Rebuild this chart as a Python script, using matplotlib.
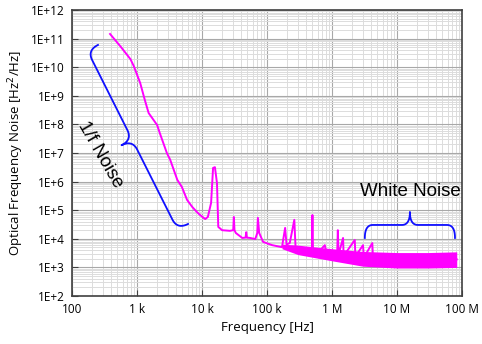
import numpy as np
import matplotlib
matplotlib.use("Agg")
import matplotlib.pyplot as plt
from matplotlib.ticker import FixedLocator, LogLocator, NullFormatter

# Main trace (frequency in Hz, noise in Hz^2/Hz)
freq = [385, 562, 794, 891, 1120, 1320, 1510, 2040, 2240, 2880, 3240, 4170,
        4900, 5890, 7080, 8320, 9330, 11200, 12300, 13800, 14800, 15800,
        17000, 17800, 20400, 26900, 30200, 30900, 31600, 33100, 41700, 46800,
        47900, 49000, 55000, 66100, 70800, 72400, 75900, 87100, 1.2e5, 1.7e5,
        1.9e5, 2.0e5, 2.24e5, 2.63e5, 2.75e5, 3.0e5, 3.8e5, 4.9e5, 5.0e5,
        5.1e5, 6.0e5, 7.76e5, 8.3e5, 1.2e6, 1.23e6, 1.26e6, 1.48e6, 1.51e6,
        2.24e6, 2.29e6, 3.0e6, 3.09e6, 4.17e6, 4.27e6, 1.0e7, 3.2e7, 8.3e7]
noise = [1.45e11, 5.2e10, 1.9e10, 1.1e10, 2.8e9, 7.1e8, 2.5e8, 9.5e7, 5.0e7,
         1.0e7, 5.8e6, 1.15e6, 6.5e5, 2.3e5, 1.3e5, 8.7e4, 6.8e4, 4.9e4,
         5.8e4, 1.8e5, 3.0e6, 3.2e6, 8.9e5, 2.6e4, 2.0e4, 1.9e4, 2.0e4, 5.8e4,
         2.0e4, 1.6e4, 1.07e4, 1.1e4, 1.7e4, 1.1e4, 1.07e4, 9.8e3, 1.6e4,
         5.4e4, 1.6e4, 7.8e3, 6.0e3, 5.1e3, 2.4e4, 6.3e3, 7.1e3, 4.6e4, 5.0e3,
         4.0e3, 4.0e3, 4.0e3, 6.8e4, 3.5e3, 3.2e3, 6.0e3, 2.8e3, 2.8e3, 2.0e4,
         2.8e3, 1.07e4, 2.5e3, 9.1e3, 2.4e3, 6.0e3, 2.2e3, 7.1e3, 2.1e3,
         1.9e3, 1.8e3, 1.9e3]

# Envelope of the noisy band at high frequency
band_freq = [1.7e5, 3e5, 1e6, 3e6, 1e7, 3e7, 8.3e7]
band_upper = [6.5e3, 6e3, 4.5e3, 3.6e3, 3.3e3, 3.3e3, 3.5e3]
band_lower = [4.5e3, 2.8e3, 1.7e3, 1.1e3, 0.95e3, 0.95e3, 1.0e3]

x_ticks = [1e2, 1e3, 1e4, 1e5, 1e6, 1e7, 1e8]
x_labels = ["100", "1 k", "10 k", "100 k", "1 M", "10 M", "100 M"]
y_ticks = [10.0 ** k for k in range(2, 13)]
y_labels = ["1E+%d" % k for k in range(2, 13)]

MAGENTA = "#ff00ff"
BLUE = "#1010ff"

fig = plt.figure(figsize=(4.82, 3.44), dpi=100)
ax = fig.add_axes([72 / 482, 1 - 296 / 344, 390 / 482, 286 / 344])
ax.set_xscale("log")
ax.set_yscale("log")
ax.set_xlim(1e2, 1e8)
ax.set_ylim(1e2, 1e12)

ax.xaxis.set_major_locator(FixedLocator(x_ticks))
ax.yaxis.set_major_locator(FixedLocator(y_ticks))
ax.xaxis.set_minor_locator(LogLocator(base=10, subs=np.arange(2, 10), numticks=20))
ax.yaxis.set_minor_locator(LogLocator(base=10, subs=np.arange(2, 10), numticks=20))
ax.xaxis.set_minor_formatter(NullFormatter())
ax.yaxis.set_minor_formatter(NullFormatter())
ax.set_xticklabels(x_labels, family="Open Sans", fontsize=8.5)
ax.set_yticklabels(y_labels, family="Open Sans", fontsize=8.5)
ax.tick_params(which="major", direction="in", length=4, width=0.8, color="#404040", pad=5)
ax.tick_params(which="minor", length=0)

ax.grid(which="major", color="#a8a8a8", linewidth=0.8)
ax.grid(which="minor", color="#dcdcdc", linewidth=0.7)
ax.set_axisbelow(True)
for s in ax.spines.values():
    s.set_color("#404040")
    s.set_linewidth(1.2)

ax.set_xlabel("Frequency [Hz]", family="Open Sans", fontsize=9.5, labelpad=4)
ax.set_ylabel("Optical Frequency Noise [Hz$^2$/Hz]", family="Open Sans", fontsize=9.5, labelpad=4)

ax.fill_between(band_freq, band_lower, band_upper, color=MAGENTA, linewidth=0, zorder=2)
ax.plot(freq, noise, color=MAGENTA, linewidth=1.4, zorder=3)


def brace(p0, p1, width, r):
    """Curly brace from p0 to p1 (data coords), tip on the right of p0->p1 on screen."""
    a = ax.transData.transform(p0)
    b = ax.transData.transform(p1)
    L = np.hypot(*(b - a))
    t = (b - a) / L
    n = np.array([t[1], -t[0]])
    h = width / 2.0

    def quad(q0, c, q1):
        s = np.linspace(0, 1, 20)[:, None]
        return (1 - s) ** 2 * np.array(q0) + 2 * (1 - s) * s * np.array(c) + s ** 2 * np.array(q1)

    pts = np.vstack([
        quad((0, 0), (0, h), (r, h)),
        quad((L / 2 - r, h), (L / 2, h), (L / 2, width)),
        quad((L / 2, width), (L / 2, h), (L / 2 + r, h)),
        quad((L - r, h), (L, h), (L, 0)),
    ])
    disp = a + pts[:, :1] * t + pts[:, 1:] * n
    data = ax.transData.inverted().transform(disp)
    ax.plot(data[:, 0], data[:, 1], color=BLUE, linewidth=1.3, zorder=4)


brace((251, 6.0e10), (6100, 3.3e4), 24, 11)
brace((7.8e7, 1.07e4), (3.2e6, 1.07e4), 26, 8)

ax.text(270, 8.5e6, "1/f Noise", family="Liberation Sans", fontsize=13.5,
        rotation=-60, ha="center", va="center", rotation_mode="anchor", zorder=5)
ax.text(1.6e7, 4.4e5, "White Noise", family="Liberation Sans", fontsize=13.5,
        ha="center", va="center", zorder=5)

fig.savefig("out.png", dpi=100)
